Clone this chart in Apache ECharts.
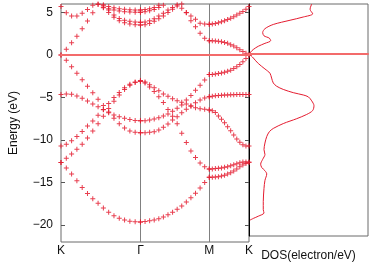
<!DOCTYPE html>
<html>
<head>
<meta charset="utf-8">
<script src="https://cdn.jsdelivr.net/npm/echarts@6/dist/echarts.min.js"></script>
<style>
html,body{margin:0;padding:0;background:#fff;}
#c{width:372px;height:267px;}
</style>
</head>
<body>
<div id="c"></div>
<script>
// High-symmetry path positions (K-Γ-M-K) and labels
const kTicks = [0, 1.3333, 2.4880, 3.1547];
const kLabels = ['K', 'Γ', 'M', 'K'];
const yTicks = [5, 0, -5, -10, -15, -20];

// Valence bands: K->Γ (16 pts), Γ->M (16 pts), M->K (14 pts)
const b1_KG = [-12.65,-13.3,-14.0,-14.8,-15.6,-16.3,-16.9,-17.45,-18.0,-18.5,-18.9,-19.2,-19.4,-19.55,-19.63,-19.65];
const b1_GM = [-19.65,-19.6,-19.5,-19.4,-19.25,-19.05,-18.8,-18.5,-18.15,-17.75,-17.3,-16.8,-16.25,-15.65,-15.0,-14.39];
const b1_MK = [-14.39,-14.39,-14.35,-14.31,-14.24,-14.16,-14.0,-13.84,-13.65,-13.41,-13.16,-12.94,-12.75,-12.62];

const b2_KG = [-12.65,-12.15,-11.65,-11.1,-10.5,-9.75,-8.95,-8.1,-7.2,-6.3,-5.45,-4.7,-4.05,-3.55,-3.2,-3.06];
const b2_GM = [-3.06,-3.3,-3.75,-4.3,-4.9,-5.6,-6.4,-7.2,-8.1,-9.2,-10.3,-11.3,-12.05,-12.7,-13.15,-13.4];
const b2_MK = [-13.4,-13.4,-13.36,-13.32,-13.28,-13.22,-13.14,-13.03,-12.92,-12.8,-12.68,-12.6,-12.58,-12.62];

const b3_KG = [-10.7,-10.5,-10.1,-9.6,-9.0,-8.35,-7.75,-7.1,-6.4,-5.7,-5.0,-4.4,-3.85,-3.45,-3.2,-3.06];
const b3_GM = [-3.06,-3.18,-3.49,-3.84,-4.2,-4.59,-4.86,-5.14,-5.37,-5.57,-5.76,-6.0,-6.2,-6.31,-6.39,-6.47];
const b3_MK = [-6.47,-6.55,-6.75,-7.18,-7.57,-7.96,-8.43,-8.9,-9.41,-9.88,-10.27,-10.55,-10.7,-10.7];

const b4_KG = [-4.65,-4.6,-4.63,-4.82,-5.1,-5.4,-5.76,-6.1,-6.45,-6.78,-7.05,-7.27,-7.45,-7.6,-7.7,-7.73];
const b4_GM = [-7.73,-7.73,-7.65,-7.53,-7.37,-7.18,-6.94,-6.63,-6.27,-5.88,-5.3,-4.75,-4.15,-3.55,-2.95,-2.3];
const b4_MK = [-2.3,-2.28,-2.24,-2.18,-2.12,-2.03,-1.92,-1.78,-1.6,-1.38,-1.12,-0.8,-0.42,0];

const b5_KG = [0,-0.62,-1.38,-2.16,-2.92,-3.68,-4.45,-5.2,-5.95,-6.7,-7.45,-8.1,-8.6,-8.95,-9.1,-9.14];
const b5_GM = [-9.14,-9.14,-9.1,-9.02,-8.82,-8.51,-8.12,-7.65,-7.25,-6.78,-6.39,-6.0,-5.61,-5.29,-5.06,-4.9];
const b5_MK = [-4.9,-4.85,-4.8,-4.77,-4.74,-4.72,-4.7,-4.68,-4.67,-4.66,-4.65,-4.65,-4.65,-4.65];

// Conduction bands (null = above the plotted range)
const c1_KG = [0,0.67,1.45,2.2,3.1,4.0,4.98,5.95,null,null,null,null,null,null,null,null];
const c1_GM = [null,null,null,null,null,null,null,null,null,null,5.0,4.04,3.33,2.55,1.96,1.68];
const c1_MK = [1.68,1.68,1.66,1.63,1.57,1.48,1.37,1.22,1.05,0.85,0.62,0.4,0.2,0];

const c2_KG = [5.7,4.98,4.6,4.6,4.9,5.35,5.85,null,null,null,null,null,null,null,null,null];
const c2_GM = [null,null,null,null,null,null,null,null,null,5.5,4.98,4.59,4.2,3.75,3.65,3.62];
const c2_MK = [3.62,3.65,3.72,3.8,3.92,4.04,4.18,4.32,4.5,4.7,4.9,5.12,5.38,5.7];

const c3_KG = [null,null,null,null,null,null,null,6.0,5.9,5.72,5.55,5.45,5.38,5.33,5.3,5.3];
const c3_GM = [5.3,5.35,5.45,5.6,5.85,6.05,null,null,null,null,null,null,null,null,null,null];

const c4_KG = [null,null,null,null,null,null,null,null,5.62,5.45,5.28,5.18,5.1,5.06,5.04,5.03];
const c4_GM = [5.03,5.08,5.2,5.35,5.6,5.85,6.05,null,null,null,null,null,null,null,null,null];

const c5_KG = [null,null,null,null,null,null,null,null,5.8,5.3,4.7,4.3,4.08,3.96,3.88,3.85];
const c5_GM = [3.85,3.88,4.03,4.27,4.59,4.9,5.3,5.6,5.9,null,null,null,null,null,null,null];

const c6_KG = [null,null,null,null,null,null,null,null,5.55,5.0,4.43,4.04,3.8,3.65,3.57,3.53];
const c6_GM = [3.53,3.57,3.7,3.96,4.27,4.6,5.0,5.37,5.76,6.0,null,null,null,null,null,null];

// Density of states (energy in eV, DOS in electron/eV, arbitrary scale)
const dosEnergy = [6.0,5.37,4.82,4.43,4.04,3.53,3.02,2.55,2.16,1.88,1.57,1.25,0.9,0.51,0.2,0,
  -0.51,-1.18,-1.84,-2.35,-2.94,-3.53,-3.92,-4.31,-4.7,-4.98,-5.21,-5.69,-6.27,-6.86,-7.33,-7.84,
  -8.43,-9.02,-9.41,-10.0,-10.78,-11.57,-12.16,-12.75,-13.33,-13.73,-14.12,-14.51,-15.29,-16.27,
  -17.84,-18.82,-19.22,-19.61,-19.88,-20.08];
const dosValue = [5.27,5.13,5.35,4.56,3.45,2.04,1.34,1.15,1.26,1.71,1.82,1.34,0.78,0.36,0.14,0.08,
  0.36,0.78,1.34,1.76,1.9,2.04,2.32,2.88,3.72,4.56,4.99,5.27,5.46,5.35,4.85,4.01,
  2.88,2.04,1.71,1.49,1.34,1.26,1.34,1.15,0.98,1.07,1.34,1.49,1.34,1.26,
  1.2,1.2,1.26,0.78,0.36,0.08];

const bandSegments = [
  [b1_KG,b1_GM,b1_MK],[b2_KG,b2_GM,b2_MK],[b3_KG,b3_GM,b3_MK],[b4_KG,b4_GM,b4_MK],[b5_KG,b5_GM,b5_MK],
  [c1_KG,c1_GM,c1_MK],[c2_KG,c2_GM,c2_MK],[c3_KG,c3_GM],[c4_KG,c4_GM],[c5_KG,c5_GM],[c6_KG,c6_GM]
];

const bandPoints = [];
bandSegments.forEach(function (segs) {
  segs.forEach(function (vals, s) {
    const n = vals.length - 1;
    vals.forEach(function (e, i) {
      if (e === null) return;
      const k = kTicks[s] + (kTicks[s + 1] - kTicks[s]) * i / n;
      bandPoints.push([k, e]);
    });
  });
});
const dosPoints = dosEnergy.map(function (e, i) { return [dosValue[i], e]; });

const FONT = 'Liberation Sans, Arial, Helvetica, sans-serif';
const RED = '#e41c30';
const ZERO_RED = '#f36b6b';
const PLUS = 'path://M4,0H6V4H10V6H6V10H4V6H0V4H4Z';
const PLOT_H = 238;

// Fermi-level line: an extra x axis drawn on zero of the energy axis, above everything else
function zeroAxis(gridIndex, max) {
  return {gridIndex: gridIndex, type: 'value', min: 0, max: max, position: 'bottom', z: 20,
    axisLine: {show: true, onZero: true, lineStyle: {color: ZERO_RED, width: 2}},
    axisTick: {show: false}, axisLabel: {show: false}, splitLine: {show: false}};
}

const chart = echarts.init(document.getElementById('c'), null, {renderer: 'canvas'});
chart.setOption({
  animation: false,
  backgroundColor: '#ffffff',
  grid: [
    {left: 55, top: 4, width: 194, height: PLOT_H, containLabel: false, show: true, borderColor: '#6a6a6a', borderWidth: 1, backgroundColor: 'transparent'},
    {left: 249, top: 4, width: 119, height: PLOT_H, containLabel: false, show: true, borderColor: '#6a6a6a', borderWidth: 1, backgroundColor: 'transparent'}
  ],
  xAxis: [
    {gridIndex: 0, type: 'value', min: kTicks[0], max: kTicks[3],
     axisLine: {show: false, onZero: false}, axisTick: {show: false}, splitLine: {show: false},
     axisLabel: {customValues: kTicks, showMinLabel: true, showMaxLabel: true, margin: 3,
       color: '#111', fontFamily: FONT, fontSize: 12,
       formatter: function (v) {
         let best = 0;
         kTicks.forEach(function (t, i) { if (Math.abs(t - v) < Math.abs(kTicks[best] - v)) best = i; });
         return kLabels[best];
       }}},
    {gridIndex: 1, type: 'value', min: 0, max: 10,
     axisLine: {show: false, onZero: false}, axisTick: {show: false}, splitLine: {show: false}, axisLabel: {show: false},
     name: 'DOS(electron/eV)', nameLocation: 'middle', nameGap: 14,
     nameTextStyle: {color: '#111', fontFamily: FONT, fontSize: 12}},
    // vertical separators at Γ and M (full-height ticks)
    {gridIndex: 0, type: 'value', min: kTicks[0], max: kTicks[3], position: 'bottom',
     axisLine: {show: false, onZero: false}, axisLabel: {show: false}, splitLine: {show: false},
     axisTick: {show: true, customValues: [kTicks[1], kTicks[2]], inside: true, length: PLOT_H,
       lineStyle: {color: '#808080', width: 1}}},
    zeroAxis(0, kTicks[3]),
    zeroAxis(1, 10)
  ],
  yAxis: [
    {gridIndex: 0, type: 'value', min: -22, max: 6, position: 'left',
     axisLabel: {customValues: yTicks, color: '#111', fontFamily: FONT, fontSize: 12, margin: 8,
       formatter: function (v) { return v < 0 ? '\u2212' + Math.abs(v) : String(v); }},
     axisTick: {customValues: yTicks, inside: true, length: 4, lineStyle: {color: '#555'}},
     axisLine: {show: false, onZero: false}, splitLine: {show: false},
     name: 'Energy (eV)', nameLocation: 'middle', nameGap: 41,
     nameTextStyle: {color: '#111', fontFamily: FONT, fontSize: 12}},
    {gridIndex: 0, type: 'value', min: -22, max: 6, position: 'right',
     axisLabel: {show: false},
     axisTick: {customValues: yTicks, inside: true, length: 4, lineStyle: {color: '#555'}},
     axisLine: {show: false, onZero: false}, splitLine: {show: false}},
    {gridIndex: 1, type: 'value', min: -22, max: 6, position: 'left',
     axisLabel: {show: false}, axisTick: {show: false}, splitLine: {show: false},
     axisLine: {show: true, onZero: false, lineStyle: {color: '#000', width: 1}}}
  ],
  series: [
    {type: 'scatter', xAxisIndex: 0, yAxisIndex: 0, data: bandPoints, z: 3,
     symbol: PLUS, symbolSize: 5, itemStyle: {color: RED, opacity: 0.85}, clip: true, silent: true},
    {type: 'line', xAxisIndex: 1, yAxisIndex: 2, data: dosPoints, showSymbol: false, smooth: 0.3,
     lineStyle: {color: RED, width: 1}, silent: true, clip: true, z: 3}
  ]
});
</script>
</body>
</html>
